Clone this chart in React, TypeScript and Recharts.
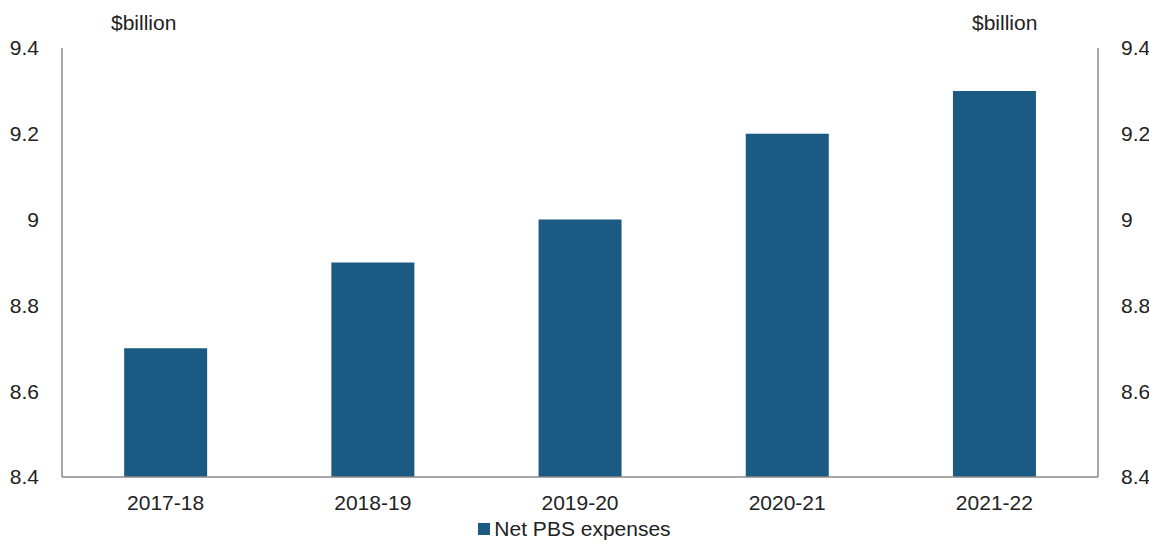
import { Bar, BarChart, Legend, XAxis, YAxis } from "recharts";

const years = ["2017-18", "2018-19", "2019-20", "2020-21", "2021-22"];
const netPbs = [8.7, 8.9, 9.0, 9.2, 9.3];
const yTicks = [8.4, 8.6, 8.8, 9.0, 9.2, 9.4];

const data = years.map((year, i) => ({ year, value: netPbs[i] }));

const font = "Liberation Sans, Arial, sans-serif";
const barColor = "#1b5a83";
const axisColor = "#8a8a8a";
const fmt = (v: number) => String(Number(v.toFixed(1)));

function LegendBox() {
  return (
    <div style={{ display: "flex", justifyContent: "center", alignItems: "center", fontFamily: font, fontSize: 21, color: "#222" }}>
      <span style={{ width: 12, height: 12, background: barColor, marginRight: 4, display: "inline-block" }} />
      <span>Net PBS expenses</span>
    </div>
  );
}

export default function App() {
  return (
    <div style={{ position: "absolute", left: 0, top: 0, width: 1149, height: 542, background: "#fff" }}>
      <div style={{ position: "absolute", left: 111, top: 11, fontFamily: font, fontSize: 21, color: "#222" }}>$billion</div>
      <div style={{ position: "absolute", left: 972, top: 11, fontFamily: font, fontSize: 21, color: "#222" }}>$billion</div>
      <BarChart width={1149} height={542} data={data} margin={{ top: 48, right: 0, bottom: 0, left: 0 }} barCategoryGap="30%">
        <XAxis
          dataKey="year"
          height={30}
          stroke={axisColor}
          strokeWidth={1.5}
          tickLine={false}
          tickMargin={12}
          tick={{ fill: "#222", fontSize: 21, fontFamily: font }}
        />
        <YAxis
          yAxisId="left"
          orientation="left"
          width={62}
          domain={[8.4, 9.4]}
          ticks={yTicks}
          tickFormatter={fmt}
          allowDataOverflow
          stroke={axisColor}
          strokeWidth={1.5}
          tickLine={false}
          tickMargin={17}
          tick={{ fill: "#222", fontSize: 21, fontFamily: font }}
        />
        <YAxis
          yAxisId="right"
          orientation="right"
          width={51}
          domain={[8.4, 9.4]}
          ticks={yTicks}
          tickFormatter={fmt}
          allowDataOverflow
          stroke={axisColor}
          strokeWidth={1.5}
          tickLine={false}
          tickMargin={17}
          tick={{ fill: "#222", fontSize: 21, fontFamily: font, textAnchor: "start" }}
        />
        <Legend
          verticalAlign="bottom"
          height={35}
          wrapperStyle={{ position: "absolute", top: 517, left: 0, width: 1149 }}
          content={() => <LegendBox />}
        />
        <Bar yAxisId="left" dataKey="value" name="Net PBS expenses" fill={barColor} isAnimationActive={false} />
      </BarChart>
    </div>
  );
}
